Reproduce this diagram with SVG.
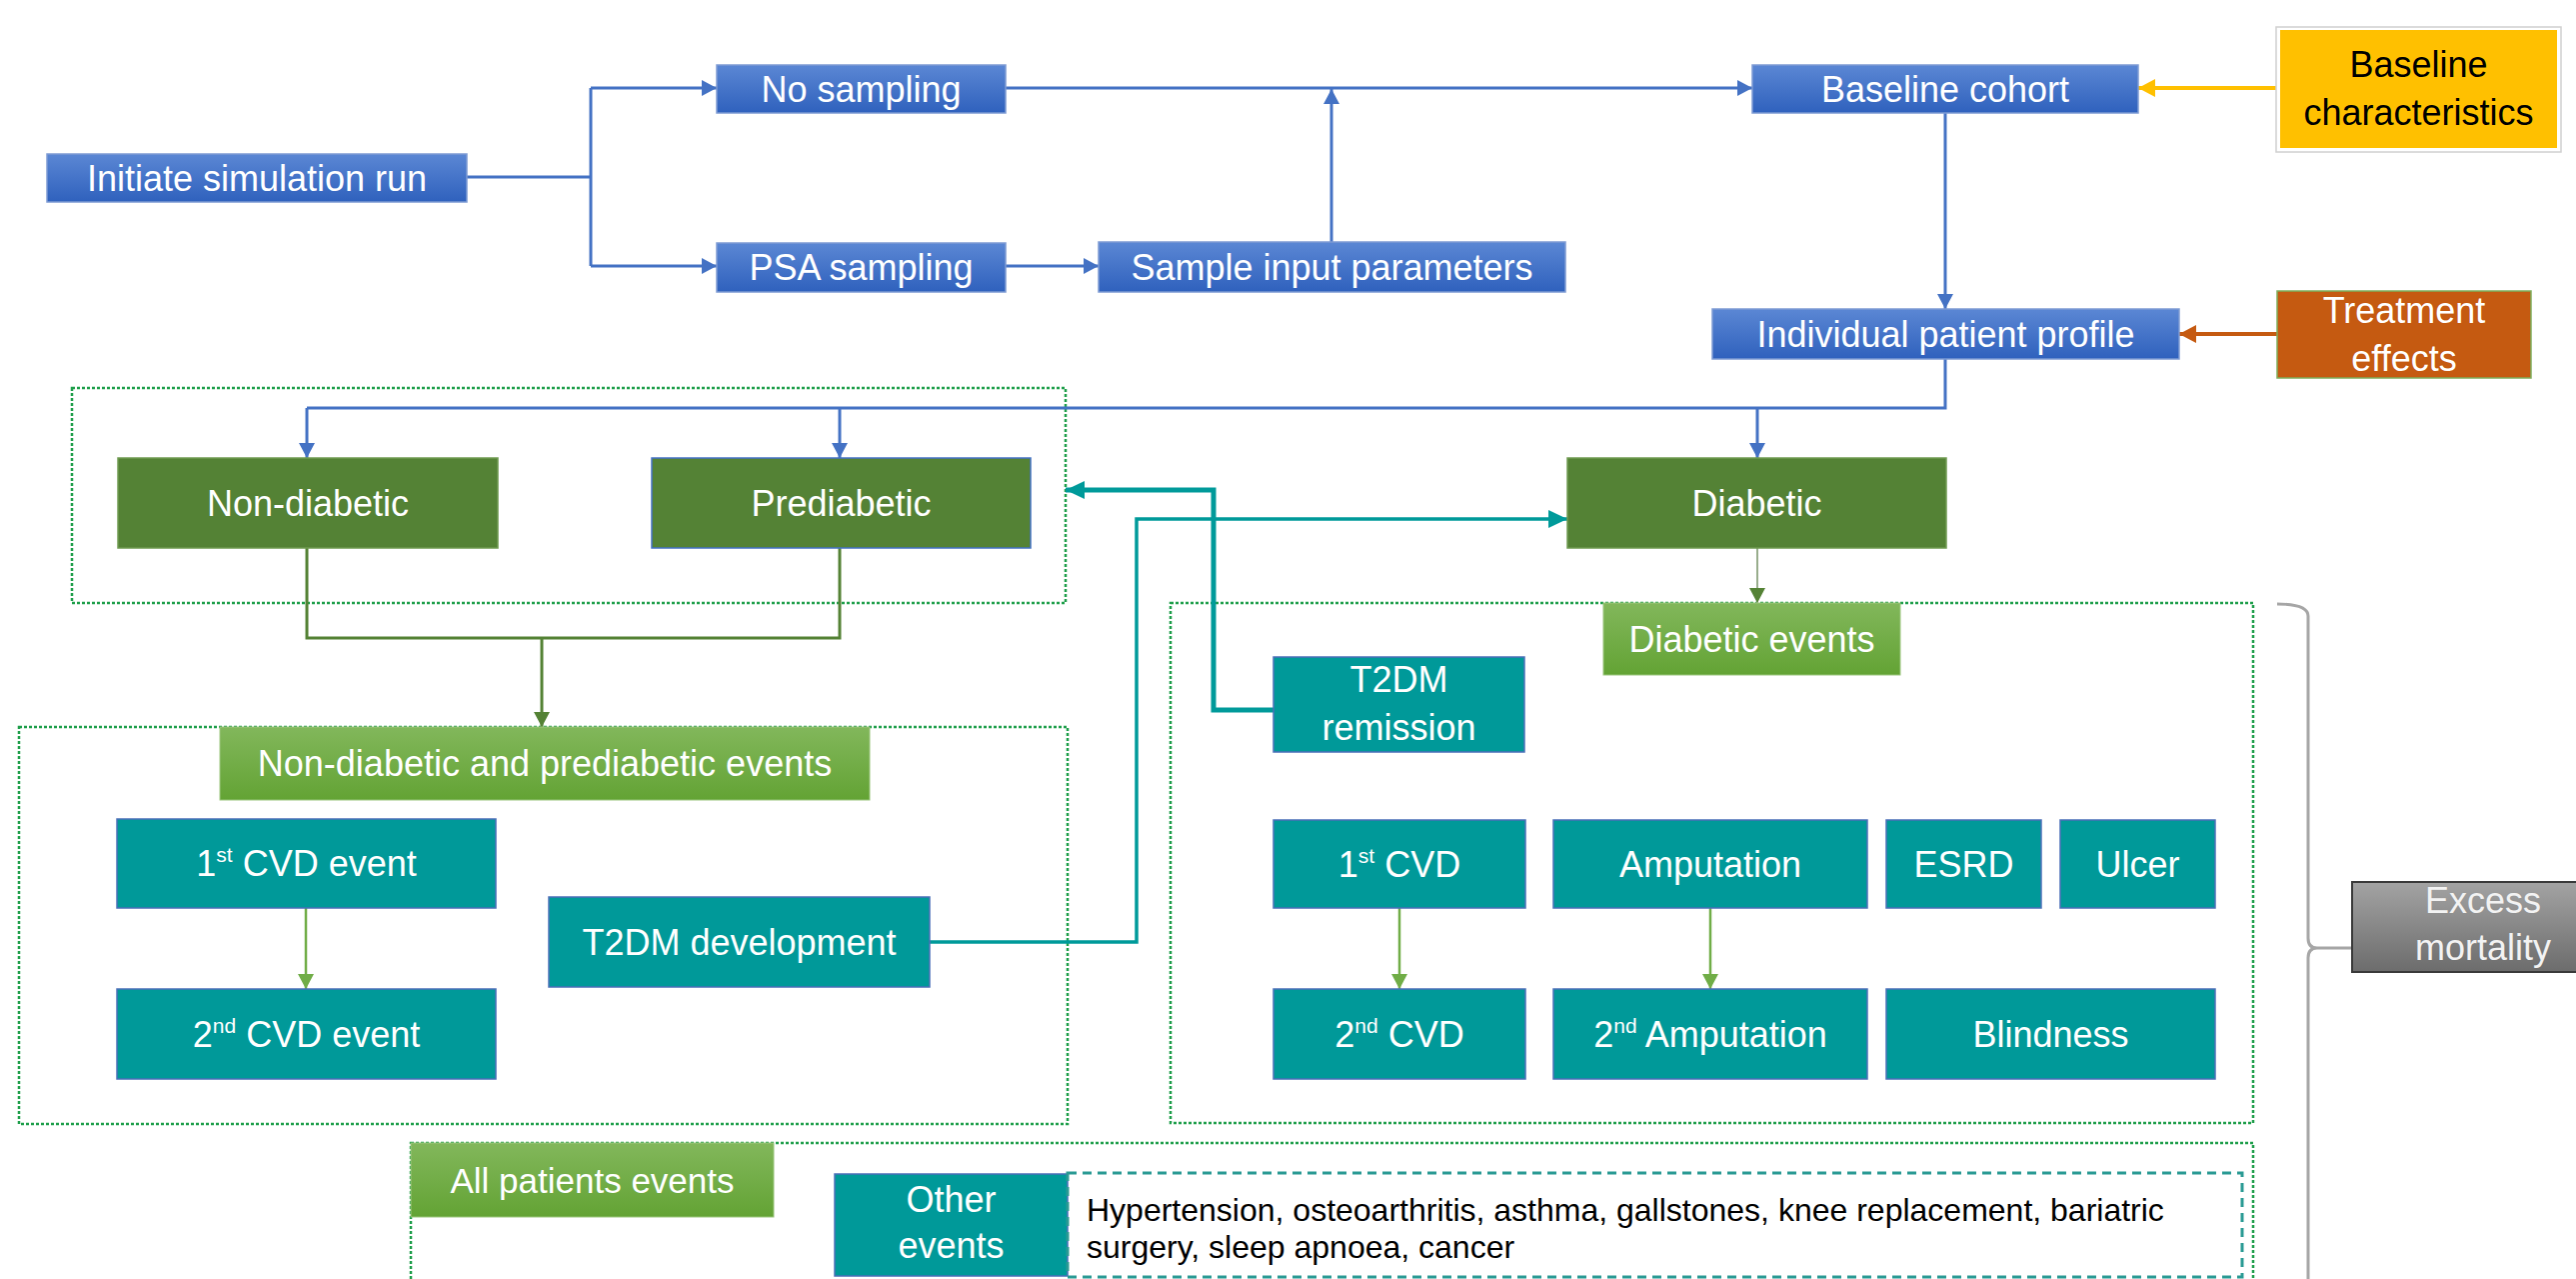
<svg xmlns="http://www.w3.org/2000/svg" width="2577" height="1279" viewBox="0 0 2577 1279">
<defs>
<linearGradient id="gBlue" x1="0" y1="0" x2="0" y2="1"><stop offset="0" stop-color="#5b87d4"/><stop offset="1" stop-color="#2f61bd"/></linearGradient>
<linearGradient id="gLight" x1="0" y1="0" x2="0" y2="1"><stop offset="0" stop-color="#82b75b"/><stop offset="1" stop-color="#63a334"/></linearGradient>
<linearGradient id="gGray" x1="0" y1="0" x2="0" y2="1"><stop offset="0" stop-color="#a3a3a3"/><stop offset="1" stop-color="#6c6c6c"/></linearGradient>
<marker id="aBlue" markerUnits="userSpaceOnUse" markerWidth="16" markerHeight="16" refX="15" refY="8" orient="auto"><path d="M0,0 L15,8 L0,16 z" fill="#4472c4"/></marker>
<marker id="aDG" markerUnits="userSpaceOnUse" markerWidth="16" markerHeight="16" refX="15" refY="8" orient="auto"><path d="M0,0 L15,8 L0,16 z" fill="#548235"/></marker>
<marker id="aLG" markerUnits="userSpaceOnUse" markerWidth="16" markerHeight="16" refX="15" refY="8" orient="auto"><path d="M0,0 L15,8 L0,16 z" fill="#70ad47"/></marker>
<marker id="aTeal" markerUnits="userSpaceOnUse" markerWidth="20" markerHeight="18" refX="19" refY="9" orient="auto"><path d="M0,0 L19,9 L0,18 z" fill="#009a9a"/></marker>
<marker id="aYel" markerUnits="userSpaceOnUse" markerWidth="18" markerHeight="18" refX="17" refY="9" orient="auto"><path d="M0,0 L17,9 L0,18 z" fill="#ffc000"/></marker>
<marker id="aOr" markerUnits="userSpaceOnUse" markerWidth="18" markerHeight="18" refX="17" refY="9" orient="auto"><path d="M0,0 L17,9 L0,18 z" fill="#c55a11"/></marker>
</defs>
<style>
text{font-family:"Liberation Sans",Arial,sans-serif;font-size:36px;fill:#ffffff;text-anchor:middle}
.blue{fill:url(#gBlue);stroke:#7d9bd3;stroke-width:1.5}
.dg{fill:#548235;stroke:#6f9a50;stroke-width:1.5}
.lg{fill:url(#gLight);stroke:#9cc67f;stroke-width:1}
.teal{fill:#009999;stroke:#4a6fb8;stroke-width:1.5}
.grp{fill:none;stroke:#1e9e4a;stroke-width:2.5;stroke-dasharray:3 2}
.sup{font-size:21px}
.cb{fill:none;stroke:#4472c4;stroke-width:3}
.cdg{fill:none;stroke:#548235;stroke-width:3}
.clg{fill:none;stroke:#70ad47;stroke-width:2.5}
.ct{fill:none;stroke:#009a9a}
</style>

<g id="groups">
<rect id="grp-states" class="grp" x="72" y="388" width="994" height="215"/>
<rect id="grp-ndp" class="grp" x="19" y="727" width="1049" height="397"/>
<rect id="grp-diab" class="grp" x="1171" y="603" width="1083" height="520"/>
<rect id="grp-all" class="grp" x="411" y="1143" width="1843" height="200"/>
</g>

<g id="connectors">
<path class="cb" d="M467,177 H591 M591,88 V266"/>
<path class="cb" d="M591,88 H717" marker-end="url(#aBlue)"/>
<path class="cb" d="M591,266 H717" marker-end="url(#aBlue)"/>
<path class="cb" d="M1006,266 H1099" marker-end="url(#aBlue)"/>
<path class="cb" d="M1006,88 H1753" marker-end="url(#aBlue)"/>
<path class="cb" stroke-width="2.5" d="M1332,242 V89" marker-end="url(#aBlue)"/>
<path fill="none" stroke="#ffc000" stroke-width="4" d="M2277,88 H2139" marker-end="url(#aYel)"/>
<path class="cb" stroke-width="2.5" d="M1946,113 V309" marker-end="url(#aBlue)"/>
<path fill="none" stroke="#c55a11" stroke-width="4" d="M2278,334 H2180" marker-end="url(#aOr)"/>
<path class="cb" stroke-width="4" d="M1946,359 V408 H307"/>
<path class="cb" stroke-width="2.5" d="M307,408 V458" marker-end="url(#aBlue)"/>
<path class="cb" stroke-width="2.5" d="M840,408 V458" marker-end="url(#aBlue)"/>
<path class="cb" stroke-width="2.5" d="M1758,408 V458" marker-end="url(#aBlue)"/>
<path class="cdg" d="M307,548 V638 H840 V548"/>
<path class="cdg" stroke-width="2.5" d="M542,638 V727" marker-end="url(#aDG)"/>
<path fill="none" stroke="#98ad8c" stroke-width="2" d="M1758,548 V603" marker-end="url(#aDG)"/>
<path class="clg" d="M306,908 V989" marker-end="url(#aLG)"/>
<path class="clg" d="M1400,908 V989" marker-end="url(#aLG)"/>
<path class="clg" d="M1711,908 V989" marker-end="url(#aLG)"/>
<path class="ct" stroke-width="3.5" d="M930,942 H1137 V519 H1568" marker-end="url(#aTeal)"/>
<path class="ct" stroke-width="5" d="M1274,710 H1214 V490 H1066" marker-end="url(#aTeal)"/>
<path fill="none" stroke="#a6a6a6" stroke-width="3" d="M2278,604 Q2309,604 2309,616 V938 Q2309,948 2318,948 Q2309,948 2309,958 V1290 M2318,948 H2353"/>
</g>

<g id="n-init"><rect class="blue" x="47" y="154" width="420" height="48"/><text x="257" y="191">Initiate simulation run</text></g>
<g id="n-nosamp"><rect class="blue" x="717" y="65" width="289" height="48"/><text x="861.5" y="102">No sampling</text></g>
<g id="n-psa"><rect class="blue" x="717" y="243" width="289" height="49"/><text x="861.5" y="280">PSA sampling</text></g>
<g id="n-sample"><rect class="blue" x="1099" y="242" width="467" height="50"/><text x="1332.5" y="280">Sample input parameters</text></g>
<g id="n-cohort"><rect class="blue" x="1753" y="65" width="386" height="48"/><text x="1946" y="102">Baseline cohort</text></g>
<g id="n-basechar"><rect x="2277" y="27" width="285" height="125" fill="#ffffff" stroke="#d0d0d0" stroke-width="1.5"/><rect x="2281" y="30" width="277" height="118" fill="#ffc000"/><text x="2419.5" y="77" style="fill:#000000">Baseline</text><text x="2419.5" y="125" style="fill:#000000">characteristics</text></g>
<g id="n-profile"><rect class="blue" x="1713" y="309" width="467" height="50"/><text x="1946.5" y="347">Individual patient profile</text></g>
<g id="n-treat"><rect x="2278" y="291" width="254" height="87" fill="#c55a11" stroke="#7fae5c" stroke-width="1.5"/><text x="2405" y="323">Treatment</text><text x="2405" y="371">effects</text></g>

<g id="n-nondiab"><rect class="dg" x="118" y="458" width="380" height="90"/><text x="308" y="516">Non-diabetic</text></g>
<g id="n-prediab"><rect class="dg" x="652" y="458" width="379" height="90" style="stroke:#4472c4"/><text x="841.5" y="516">Prediabetic</text></g>
<g id="n-diab"><rect class="dg" x="1568" y="458" width="379" height="90"/><text x="1757.5" y="516">Diabetic</text></g>

<g id="n-ndpevents"><rect class="lg" x="220" y="727" width="650" height="73"/><text x="545" y="776">Non-diabetic and prediabetic events</text></g>
<g id="n-cvd1"><rect class="teal" x="117" y="819" width="379" height="89"/><text x="306.5" y="876">1<tspan class="sup" dy="-14">st</tspan><tspan dy="14"> CVD event</tspan></text></g>
<g id="n-cvd2"><rect class="teal" x="117" y="989" width="379" height="90"/><text x="306.5" y="1047">2<tspan class="sup" dy="-14">nd</tspan><tspan dy="14"> CVD event</tspan></text></g>
<g id="n-t2dmdev"><rect class="teal" x="549" y="897" width="381" height="90"/><text x="739.5" y="955">T2DM development</text></g>

<g id="n-diabevents"><rect class="lg" x="1604" y="603" width="297" height="72"/><text x="1752.5" y="652">Diabetic events</text></g>
<g id="n-remission"><rect class="teal" x="1274" y="657" width="251" height="95"/><text x="1399.5" y="692">T2DM</text><text x="1399.5" y="740">remission</text></g>
<g id="n-dcvd1"><rect class="teal" x="1274" y="820" width="252" height="88"/><text x="1400" y="877">1<tspan class="sup" dy="-14">st</tspan><tspan dy="14"> CVD</tspan></text></g>
<g id="n-amp"><rect class="teal" x="1554" y="820" width="314" height="88"/><text x="1711" y="877">Amputation</text></g>
<g id="n-esrd"><rect class="teal" x="1887" y="820" width="155" height="88"/><text x="1964.5" y="877">ESRD</text></g>
<g id="n-ulcer"><rect class="teal" x="2061" y="820" width="155" height="88"/><text x="2138.5" y="877">Ulcer</text></g>
<g id="n-dcvd2"><rect class="teal" x="1274" y="989" width="252" height="90"/><text x="1400" y="1047">2<tspan class="sup" dy="-14">nd</tspan><tspan dy="14"> CVD</tspan></text></g>
<g id="n-amp2"><rect class="teal" x="1554" y="989" width="314" height="90"/><text x="1711" y="1047">2<tspan class="sup" dy="-14">nd</tspan><tspan dy="14"> Amputation</tspan></text></g>
<g id="n-blind"><rect class="teal" x="1887" y="989" width="329" height="90"/><text x="2051.5" y="1047">Blindness</text></g>

<g id="n-excess"><rect x="2353" y="882" width="270" height="90" fill="url(#gGray)" stroke="#3a3a3a" stroke-width="2"/><text x="2484" y="913" style="fill:#f2f2f2">Excess</text><text x="2484" y="960" style="fill:#f2f2f2">mortality</text></g>

<g id="n-allevents"><rect class="lg" x="411" y="1143" width="363" height="74"/><text x="592.5" y="1193" style="font-size:35px">All patients events</text></g>
<g id="n-other"><rect class="teal" x="835" y="1174" width="233" height="102"/><text x="951.5" y="1212">Other</text><text x="951.5" y="1258">events</text></g>
<g id="n-otherlist"><rect x="1068" y="1173" width="1175" height="104" fill="none" stroke="#2a9a94" stroke-width="3" stroke-dasharray="9 6"/><text x="1087" y="1221" style="fill:#000000;font-size:32px;text-anchor:start">Hypertension, osteoarthritis, asthma, gallstones, knee replacement, bariatric</text><text x="1087" y="1258" style="fill:#000000;font-size:32px;text-anchor:start">surgery, sleep apnoea, cancer</text></g>
</svg>
